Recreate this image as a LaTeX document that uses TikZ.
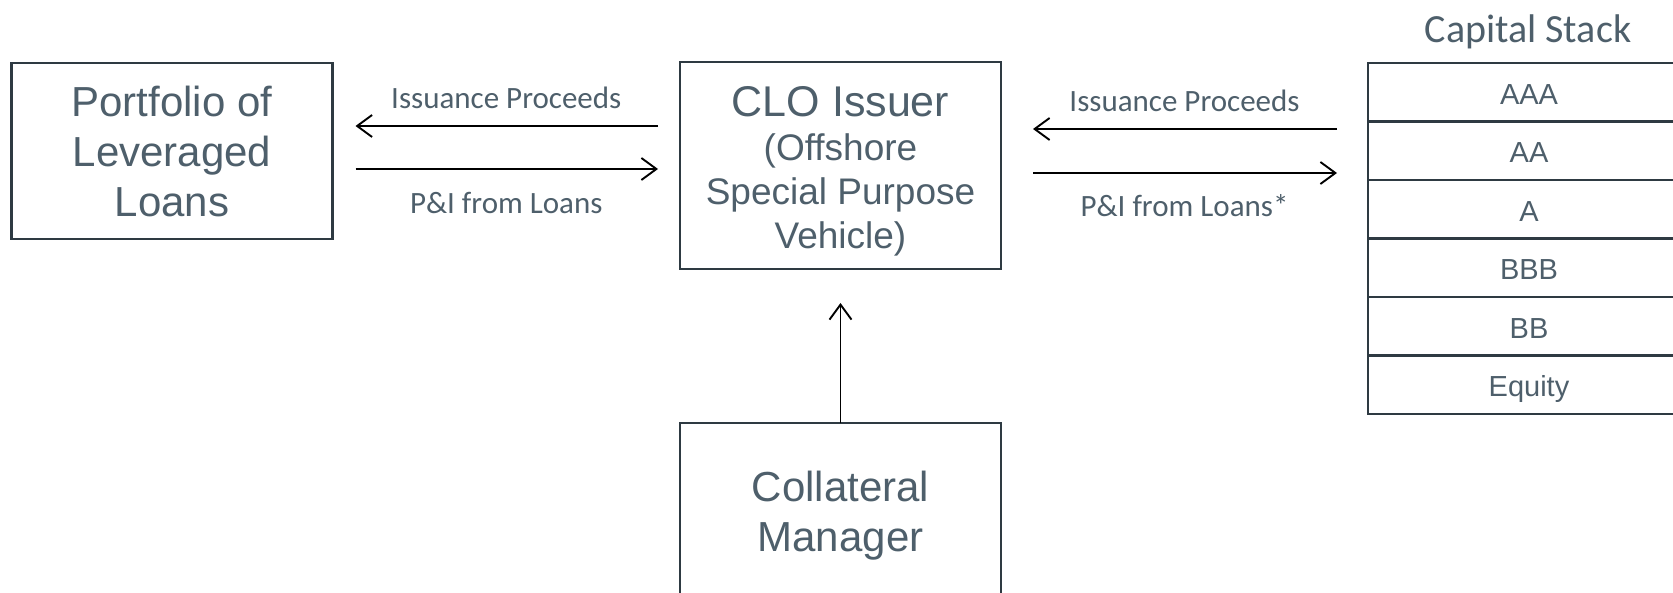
\documentclass[tikz,border=0pt]{standalone}
\usepackage{fontspec}
\setmainfont{Liberation Sans}
\newfontfamily\calibri{Carlito}
\usetikzlibrary{arrows.meta}
\definecolor{boxtext}{HTML}{4E5F6B}
\definecolor{boxline}{HTML}{2E3A42}

\begin{document}
\begin{tikzpicture}[x=1pt, y=-1pt,
    entity/.style={draw=boxline, line width=2.8pt, text=boxtext, align=center, inner sep=0pt, outer sep=0pt, minimum width=321pt, font=\fontsize{42}{50}\selectfont},
    clotext/.style={text=boxtext, align=center, inner sep=0pt, font=\fontsize{37}{44}\selectfont},
    tranche/.style={draw=boxline, line width=2.6pt, text=boxtext, minimum width=322pt, minimum height=58.5pt, text height=24pt, text depth=0pt, inner sep=0pt, outer sep=0pt, font=\fontsize{29}{34}\selectfont},
    flow/.style={-{Straight Barb[length=15pt, width=22pt]}, line width=1.9pt},
    flowlabel/.style={text=boxtext, font=\calibri\fontsize{31}{36}\selectfont}]
    \useasboundingbox (0,0) rectangle (1673,593);
    \clip (0,0) rectangle (1673,593);

    \node[entity, minimum height=176pt] (pf) at (172,151) {Portfolio of\\Leveraged\\Loans};
    \node[entity, minimum height=207pt, label={[clotext, yshift=-6pt]center:{{\fontsize{43}{47}\selectfont CLO Issuer}\\(Offshore\\Special Purpose\\Vehicle)}}] (clo) at (840.5,165.5) {};
    \node[entity, minimum height=186pt] (cm) at (840.5,516) {Collateral\\Manager};

    \node[flowlabel, font=\calibri\fontsize{40}{46}\selectfont] (title) at (1528,32) {Capital Stack};
    \foreach \r [count=\i] in {AAA,AA,A,BBB,BB,Equity}
        \node[tranche] (s\i) at (1529,{63+58.5*(\i-0.5)}) {\r};

    \draw[flow, shorten <=22pt, shorten >=23pt] ([yshift=25pt]pf.east -| clo.west) -- ([yshift=25pt]pf.east)
        node[midway, flowlabel, yshift=28pt] {Issuance Proceeds};
    \draw[flow, shorten <=23pt, shorten >=22pt] ([yshift=-18pt]pf.east) -- ([yshift=-18pt]pf.east -| clo.west)
        node[midway, flowlabel, yshift=-34pt] {P\&I from Loans};
    \draw[flow, shorten <=31pt, shorten >=32pt] ([yshift=36.5pt]clo.east -| s1.west) -- ([yshift=36.5pt]clo.east)
        node[midway, flowlabel, yshift=28pt] {Issuance Proceeds};
    \draw[flow, shorten <=32pt, shorten >=31pt] ([yshift=-7.5pt]clo.east) -- ([yshift=-7.5pt]clo.east -| s1.west)
        node[midway, flowlabel, yshift=-33pt] {P\&I from Loans*};
    \draw[flow, shorten >=34pt] (cm.north) -- (clo.south);
\end{tikzpicture}
\end{document}
